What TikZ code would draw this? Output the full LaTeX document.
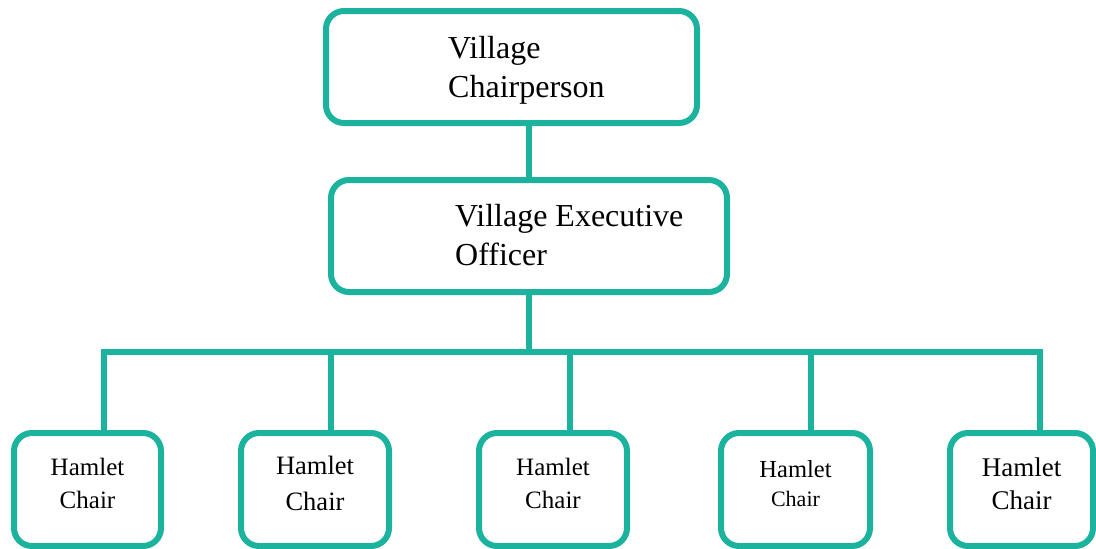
\documentclass[tikz,border=0pt]{standalone}
\usepackage{fontspec}
\setmainfont{Liberation Serif}
\definecolor{orgteal}{RGB}{27,179,158}

\begin{document}
\begin{tikzpicture}[
    x=1pt,
    y=-1pt,
    box/.style={
        draw=orgteal,line width=6pt,rounded corners=18pt,inner sep=0pt
    },
    headbox/.style={box,minimum width=#1,minimum height=112pt},
    hamletbox/.style={
        box,minimum width=#1,minimum height=113pt,align=center,
        text depth=12pt
    },
    heading/.style={
        anchor=base west,align=left,inner sep=0pt,
        font=\fontsize{32}{38.5}\selectfont
    },
    link/.style={draw=orgteal,line width=6pt}
]
    \useasboundingbox (0,0) rectangle (1096,549);

    % top of the chart
    \node (chair) [headbox=371pt] at (511.5,67) {};
    \node (chairtext) [heading] at (448,97) {Village\\Chairperson};

    \node (veo) [headbox=396pt] at (529,236) {};
    \node (veotext) [heading] at (455,265) {Village Executive\\Officer};

    % hamlet chairs
    \node (h1) [hamletbox=147pt,font=\fontsize{25}{33}\selectfont]
        at (87.5,489.5) {Hamlet\\Chair};
    \node (h2) [hamletbox=148pt,font=\fontsize{26.5}{36}\selectfont]
        at (315,489.5) {Hamlet\\Chair};
    \node (h3) [hamletbox=148pt,font=\fontsize{25}{33}\selectfont]
        at (553,489.5) {Hamlet\\Chair};
    \node (h4) [hamletbox=149pt,font=\fontsize{24.5}{29}\selectfont]
        at (795.5,489.5) {Hamlet\\\fontsize{22}{29}\selectfont Chair};
    \node (h5) [hamletbox=143pt,font=\fontsize{27}{33}\selectfont]
        at (1021.5,489.5) {Hamlet\\Chair};

    \coordinate (bar) at (529,352);

    \draw [link] (chair.south -| veo.north) -- (veo.north);
    \draw [link] (veo.south) -- (bar);

    \draw [link] ([xshift=16.5pt]h1.north) |- (bar)
        -| ([xshift=18.5pt]h5.north);
    \draw [link] ([xshift=16pt]h2.north) -- ([xshift=16pt]h2.north |- bar);
    \draw [link] ([xshift=17pt]h3.north) -- ([xshift=17pt]h3.north |- bar);
    \draw [link] ([xshift=15.5pt]h4.north) -- ([xshift=15.5pt]h4.north |- bar);

\end{tikzpicture}
\end{document}
